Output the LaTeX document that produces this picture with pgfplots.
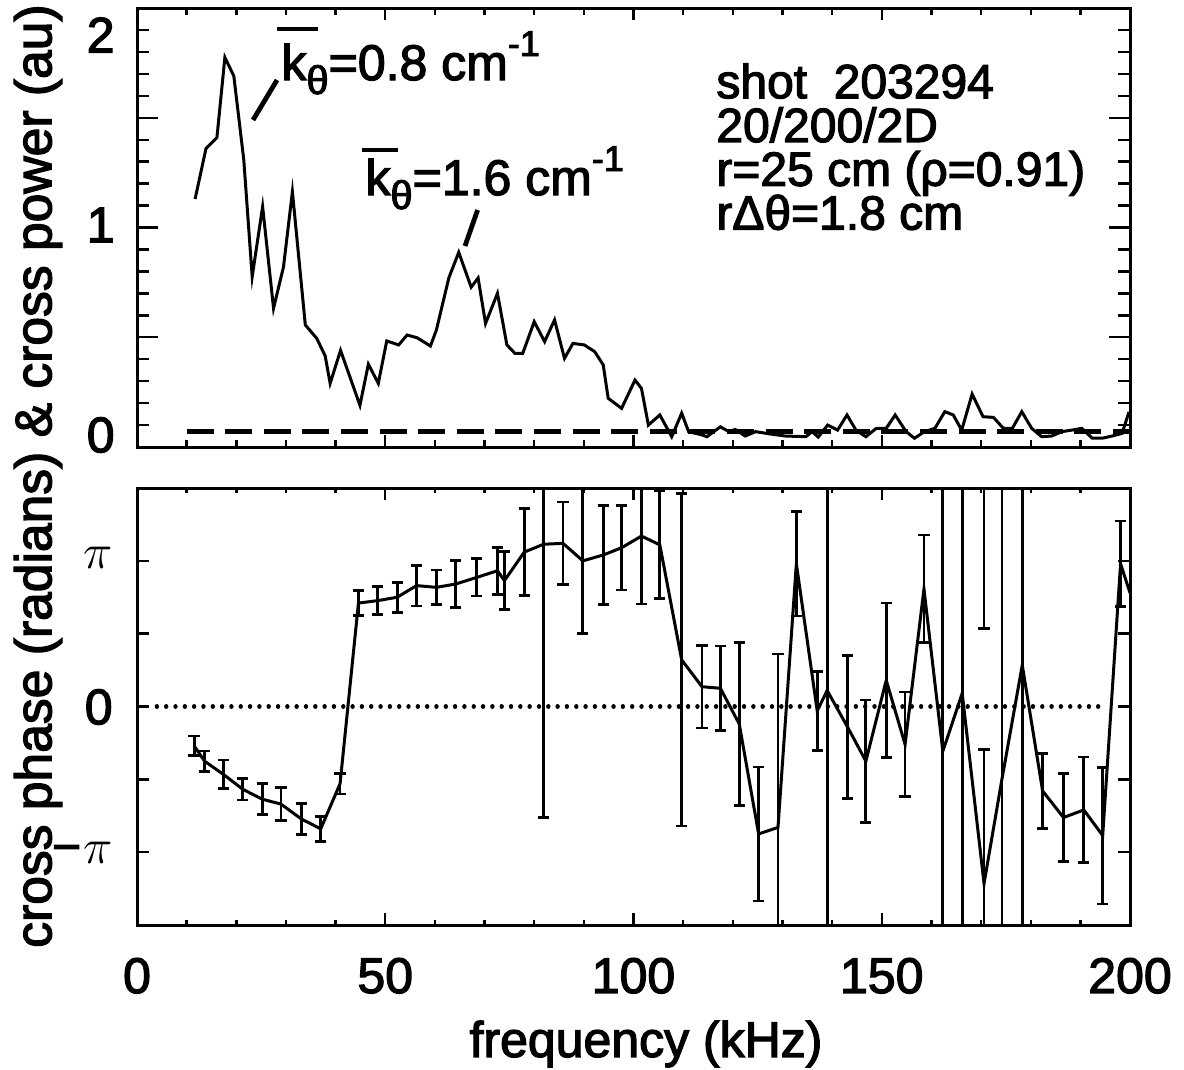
\documentclass[border=0pt]{standalone}
\usepackage{fontspec}
\setmainfont{Liberation Sans}[FakeBold=2.5]
\usepackage{amsmath}
\usepackage{pgfplots}
\usepackage{pgfplotstable}
\pgfplotsset{compat=1.18}

\pgfplotstableread{
f v
11.7 1.13
13.9 1.36
16.1 1.41
17.7 1.775
19.5 1.69
21.5 1.31
23.2 0.776
25.3 1.095
27.5 0.632
29.5 0.82
31.3 1.163
33.9 0.556
36.2 0.495
37.9 0.415
38.9 0.29
41.0 0.44
44.9 0.19
46.6 0.377
48.6 0.29
50.3 0.483
52.7 0.465
54.4 0.51
56.4 0.498
59.1 0.46
60.3 0.533
62.8 0.77
64.8 0.887
67.3 0.728
68.7 0.77
70.2 0.563
72.6 0.70
74.5 0.465
76.1 0.427
77.7 0.427
80.0 0.571
82.1 0.48
84.1 0.579
86.1 0.404
87.8 0.472
90.1 0.465
92.2 0.434
93.9 0.374
94.9 0.222
97.6 0.176
100.3 0.305
101.6 0.267
103.0 0.10
105.3 0.146
107.7 0.047
109.7 0.154
111.1 0.07
113.8 0.055
114.8 0.047
117.5 0.092
119.2 0.07
120.5 0.08
122.5 0.05
124.6 0.07
127.3 0.06
130.6 0.05
134.7 0.047
136.0 0.07
137.2 0.045
139.1 0.10
141.1 0.077
143.0 0.146
144.8 0.077
146.8 0.047
148.9 0.085
150.9 0.085
152.7 0.146
154.9 0.07
156.6 0.04
158.6 0.07
160.7 0.085
162.7 0.161
164.4 0.146
166.1 0.077
168.2 0.241
170.4 0.138
172.5 0.135
174.5 0.085
176.3 0.085
178.2 0.161
180.2 0.085
182.2 0.047
184.2 0.05
186.3 0.07
188.3 0.077
190.3 0.085
192.4 0.04
194.4 0.04
196.4 0.05
198.4 0.062
199.8 0.16
}\powertable

\pgfplotstableread{
f v e
11.5 -0.27 0.068
13.6 -0.375 0.07
17.4 -0.466 0.099
21.3 -0.568 0.074
25.2 -0.636 0.105
29.0 -0.67 0.114
33.1 -0.772 0.105
37.0 -0.84 0.085
40.9 -0.53 0.07
44.6 0.71 0.084
48.5 0.727 0.097
52.4 0.75 0.102
56.3 0.83 0.14
60.3 0.818 0.119
64.2 0.841 0.159
68.4 0.886 0.128
72.6 0.932 0.162
74.0 0.864 0.2
78.0 1.06 0.3
81.9 1.114 1.875
85.8 1.12 0.284
89.8 1.0 0.5
93.9 1.04 0.34
97.6 1.09 0.29
101.6 1.17 0.466
105.3 1.11 0.37
109.7 0.32 1.14
113.8 0.136 0.284
117.5 0.125 0.29
121.3 -0.12 0.56
125.2 -0.875 0.46
129.1 -0.83 1.19
132.8 0.98 0.358
137.0 -0.03 0.27
139.0 0.11 2.0
143.1 -0.14 0.49
146.8 -0.375 0.42
150.9 0.18 0.53
154.7 -0.26 0.36
158.5 0.807 0.37
162.3 -0.307 2.0
166.2 0.09 2.0
170.6 -1.215 0.92
174.2 -0.5 2.0
178.3 0.284 2.0
182.4 -0.58 0.26
186.6 -0.762 0.30
190.7 -0.71 0.363
194.5 -0.886 0.47
198.1 0.98 0.293
200.0 0.78 0
}\phasetable

\pgfplotsset{
  myaxis/.style={
    scale only axis, width=496.5bp,
    xmin=0, xmax=200,
    xtick={0,50,...,200}, minor x tick num=4,
    tick align=inside, tick pos=both,
    axis line style={line width=1.5bp},
    every tick/.append style={black, line width=1.2bp},
    yticklabels={},
  },
  ebar/.style={
    black, only marks, mark=*, mark size=0pt,
    error bars/y explicit,
    error bars/error bar style={line width=1.4bp, black},
    error bars/error mark options={rotate=90, mark size=2.8bp, line width=1.4bp, black},
  },
}

\begin{document}
\fontsize{25bp}{30bp}\selectfont
\begin{tikzpicture}
\useasboundingbox (0,0) rectangle (592bp,-535bp);

% ---------------- top panel ----------------
\begin{axis}[myaxis,
  at={(68.5bp,-223.5bp)}, anchor=south west, height=219.5bp,
  ymin=0, ymax=2, ytick={0,0.5,...,2}, minor y tick num=4,
  xticklabels={},
  major tick length=10.5bp, minor tick length=6bp,
  every major x tick/.append style={/pgfplots/major tick length=6bp},
  every minor x tick/.append style={/pgfplots/minor tick length=3.5bp},
]
\addplot[black, line width=1.5bp, mark=none] table[x=f, y=v] {\powertable};
\addplot[black, line width=2.2bp, dash pattern=on 13.5bp off 5.8bp] coordinates {(10,0.07) (200,0.07)};
\end{axis}

% ---------------- bottom panel ----------------
\begin{axis}[myaxis,
  at={(68.5bp,-462.5bp)}, anchor=south west, height=218.5bp,
  ymin=-1.5, ymax=1.5, ytick={-1,-0.5,...,1},
  major tick length=6bp, minor tick length=2.5bp,
  xticklabel style={yshift=-8bp},
  /pgf/number format/assume math mode=true,
]
\addplot[black, line width=2.2bp, line cap=round, dash pattern=on 0.01bp off 4.65bp] coordinates {(4,0) (195,0)};
\addplot[black, line width=1.5bp, mark=none] table[x=f, y=v] {\phasetable};
\addplot[ebar, skip coords between index={50}{51}, error bars/y dir=both]
  table[x=f, y=v, y error=e] {\phasetable};
\addplot[ebar, error bars/y dir=minus]
  coordinates {(170.6,1.6) -= (0,1.066)};
\end{axis}

% y tick labels
\node[anchor=east, inner sep=0] at (57.5bp,-217.5bp) {0};
\node[anchor=east, inner sep=0] at (57.5bp,-112.5bp) {1};
\node[anchor=east, inner sep=0] at (57.5bp,-17.5bp) {2};
\node[anchor=east, inner sep=0] at (56.5bp,-279bp) {\fontsize{32bp}{32bp}\selectfont$\pi$};
\node[anchor=east, inner sep=0] at (56.5bp,-353.5bp) {0};
\node[anchor=east, inner sep=0] at (56.5bp,-426.5bp) {−\kern1bp{\fontsize{32bp}{32bp}\selectfont$\pi$}};

% axis titles
\node[rotate=90] at (19bp,-238bp) {\fontsize{25.8bp}{30bp}\selectfont cross phase (radians) \& cross power (au)};
\node at (323bp,-522bp) {frequency (kHz)};

% info text
\node[anchor=north west, inner sep=0, align=left,
  font={\fontsize{24bp}{21.9bp}\selectfont\lineskiplimit=-100bp}] at (358bp,-31.5bp)
  {shot\ \ 203294\\20/200/2D\\r=25 cm (ρ=0.91)\\rΔθ=1.8 cm};

% k_theta annotations
\node[anchor=base west, inner sep=0] at (140.5bp,-40bp)
  {k\raisebox{-7bp}{\fontsize{20bp}{20bp}\selectfont θ}=0.8 cm\raisebox{12bp}{\fontsize{18bp}{18bp}\selectfont -1}};
\draw[line width=1.6bp] (138.5bp,-14.5bp) -- (159bp,-14.5bp);
\draw[line width=2.4bp] (126.5bp,-60bp) -- (138.5bp,-40bp);

\node[anchor=base west, inner sep=0] at (182.5bp,-97.5bp)
  {k\raisebox{-7bp}{\fontsize{20bp}{20bp}\selectfont θ}=1.6 cm\raisebox{12bp}{\fontsize{18bp}{18bp}\selectfont -1}};
\draw[line width=1.6bp] (181bp,-75bp) -- (199bp,-75bp);
\draw[line width=2.4bp] (232.5bp,-123bp) -- (238.8bp,-105bp);
\end{tikzpicture}
\end{document}
